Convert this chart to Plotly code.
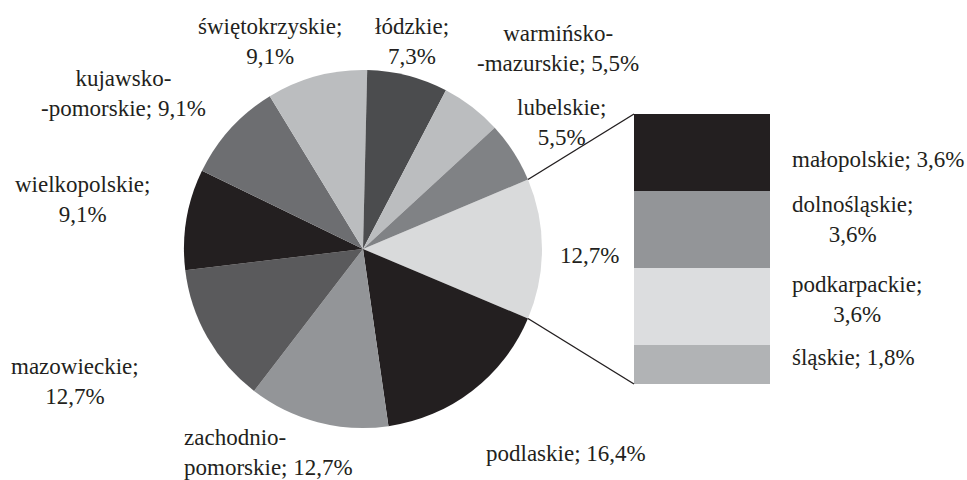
import math
import plotly.graph_objects as go

W, H = 967, 480

# ---------------- data ----------------
pie_labels = ["pozostałe", "podlaskie", "zachodniopomorskie", "mazowieckie", "wielkopolskie",
              "kujawsko-pomorskie", "świętokrzyskie", "łódzkie", "warmińsko-mazurskie", "lubelskie"]
pie_values = [12.7, 16.4, 12.7, 12.7, 9.1, 9.1, 9.1, 7.3, 5.5, 5.5]
pie_texts = ["12,7%", "podlaskie; 16,4%", "zachodnio-<br>pomorskie; 12,7%", "mazowieckie;<br>12,7%",
             "wielkopolskie;<br>9,1%", "kujawsko-<br>-pomorskie; 9,1%", "świętokrzyskie;<br>9,1%",
             "łódzkie;<br>7,3%", "warmińsko-<br>-mazurskie; 5,5%", "lubelskie;<br>5,5%"]

bar_labels = ["małopolskie", "dolnośląskie", "podkarpackie", "śląskie"]
bar_values = [3.6, 3.6, 3.6, 1.8]
bar_texts = ["małopolskie; 3,6%", "dolnośląskie;<br>3,6%", "podkarpackie;<br>3,6%", "śląskie; 1,8%"]

# ---------------- styles ----------------
pie_colors = ["#d9dadb", "#231f20", "#939598", "#5a5a5c", "#231f20",
              "#6d6e71", "#bbbdbf", "#4b4c4e", "#bbbdbf", "#808285"]
bar_colors = ["#231f20", "#939598", "#dcdddf", "#b1b3b5"]
FONT = "Liberation Serif"
TXT = "#231f20"
FS = 23

# pie geometry in px
cx, cy, r = 363, 249, 179
# bar geometry in px
bx0, bx1, by0, by1 = 634, 770, 114, 384

def px(x):
    return x / W

def py(y):
    return 1 - y / H

total = sum(pie_values)
other_angle = pie_values[0] / total * 360
rotation = 90 - other_angle / 2

fig = go.Figure()
fig.add_trace(go.Pie(
    labels=pie_labels, values=pie_values, sort=False, direction="clockwise",
    rotation=rotation, marker=dict(colors=pie_colors, line=dict(width=0)),
    textinfo="none", hoverinfo="label+value", showlegend=False,
    domain=dict(x=[px(cx - r), px(cx + r)], y=[py(cy + r), py(cy - r)]),
))

# stacked bar: bottom first
for lab, val, col in reversed(list(zip(bar_labels, bar_values, bar_colors))):
    fig.add_trace(go.Bar(
        x=["pozostałe"], y=[val], name=lab, marker=dict(color=col, line=dict(width=0)),
        showlegend=False, xaxis="x", yaxis="y", hoverinfo="name+y",
    ))

# connector lines from the pie's "other" slice edges to bar corners
half = math.radians(other_angle / 2)
ex = cx + r * math.cos(half)
ey_top = cy - r * math.sin(half)
ey_bot = cy + r * math.sin(half)
shapes = [
    dict(type="line", xref="paper", yref="paper", x0=px(ex), y0=py(ey_top), x1=px(bx0), y1=py(by0),
         line=dict(color="#231f20", width=1.4)),
    dict(type="line", xref="paper", yref="paper", x0=px(ex), y0=py(ey_bot), x1=px(bx0), y1=py(by1),
         line=dict(color="#231f20", width=1.4)),
]

# label positions (px): (x, y, xanchor, align)
pie_label_pos = [
    (589, 255, "center", "center"),
    (566, 453, "center", "center"),
    (182, 452, "left", "left"),
    (75, 381, "center", "center"),
    (82, 199, "center", "center"),
    (123, 94, "center", "center"),
    (270, 41, "center", "center"),
    (412, 41, "center", "center"),
    (558, 49, "center", "center"),
    (561, 122, "center", "center"),
]
bar_label_pos = [(790, 160), (790, 220), (790, 299), (790, 357)]

annotations = []
for t, (x, y, xa, al) in zip(pie_texts, pie_label_pos):
    annotations.append(dict(text=t, x=px(x), y=py(y), xref="paper", yref="paper",
                            xanchor=xa, yanchor="middle", align=al, showarrow=False,
                            font=dict(family=FONT, size=FS, color=TXT)))
for t, (x, y) in zip(bar_texts, bar_label_pos):
    annotations.append(dict(text=t, x=px(x), y=py(y), xref="paper", yref="paper",
                            xanchor="left", yanchor="middle", align="center", showarrow=False,
                            font=dict(family=FONT, size=FS, color=TXT)))

fig.update_layout(
    width=W, height=H, margin=dict(l=0, r=0, t=0, b=0),
    paper_bgcolor="white", plot_bgcolor="rgba(0,0,0,0)",
    barmode="stack", bargap=0,
    xaxis=dict(domain=[px(bx0), px(bx1)], range=[-0.5, 0.5], visible=False, fixedrange=True),
    yaxis=dict(domain=[py(by1), py(by0)], range=[0, sum(bar_values)], visible=False, fixedrange=True),
    shapes=shapes, annotations=annotations,
    font=dict(family=FONT, color=TXT),
)

fig.write_html("out.html", config={"displayModeBar": False},
               post_script="document.body.style.margin='0';document.body.style.overflow='hidden';")
